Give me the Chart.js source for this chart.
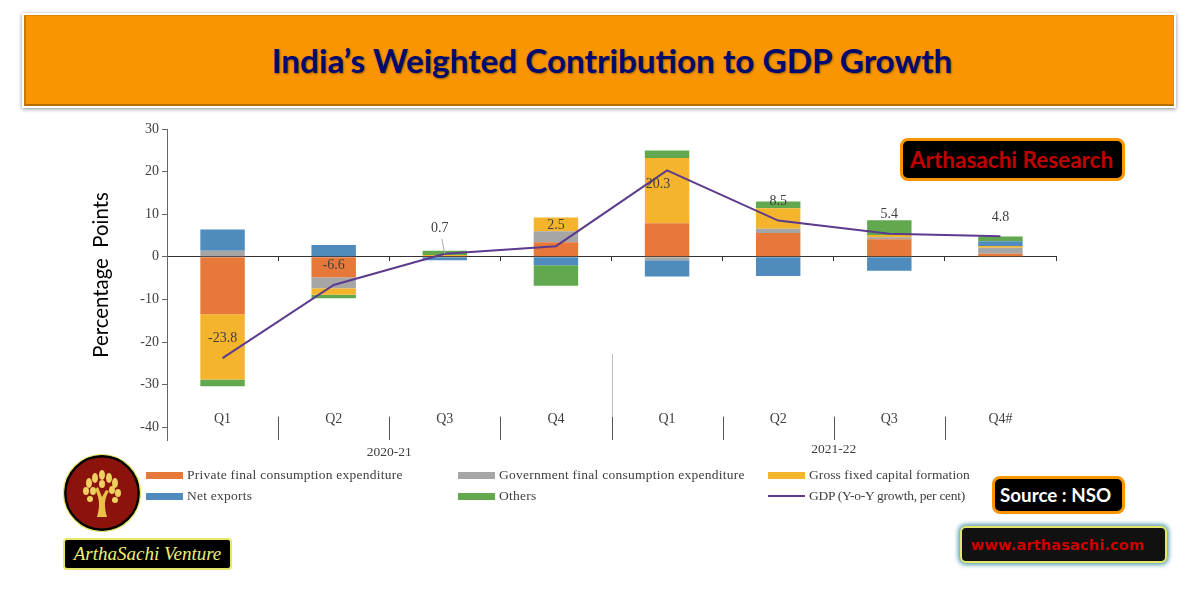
<!DOCTYPE html>
<html>
<head>
<meta charset="utf-8">
<title>India's Weighted Contribution to GDP Growth</title>
<script src="https://cdn.jsdelivr.net/npm/chart.js@4"></script>
<style>
  html, body { margin: 0; padding: 0; background: #fff; }
  #page { position: relative; width: 1201px; height: 601px; overflow: hidden; }
  #chart { position: absolute; left: 0; top: 0; }
  .abs { position: absolute; box-sizing: border-box; }
  #banner {
    left: 22px; top: 13px; width: 1154px; height: 95px; background: #fff;
    box-shadow: 0 1px 4px rgba(0,0,0,0.45); padding: 2px;
  }
  #bannerInner {
    width: 100%; height: 100%; box-sizing: border-box; background: #f99500; padding-left: 25px;
    border: 1px solid #e08800; border-bottom: 2px solid #b56d00; border-left: 2px solid #c97a00;
    text-align: center; color: #000a6e; font: bold 33.3px/88px Lato, sans-serif;
    text-shadow: 1px 1px 2px rgba(0,0,0,0.4);
  }
  .tag {
    background: #000; border: 3px solid #f99500; border-radius: 8px; white-space: nowrap;
    font-family: Lato, sans-serif; font-weight: bold;
  }
  #research { left: 900px; top: 138px; width: 225px; height: 43px; color: #c00000; font-size: 22.5px; line-height: 37px; padding-left: 7px; }
  #source { left: 992px; top: 476px; width: 133px; height: 38px; color: #fff; font-size: 18.8px; line-height: 31px; padding-left: 5px; }
  #site {
    left: 960px; top: 526px; width: 207px; height: 37px; background: #111; border: 2px solid #e6e66a; border-radius: 6px;
    box-shadow: 0 0 4px 2px rgba(40,130,150,0.75); color: #d00000; font: bold 14.8px/33px "DejaVu Sans", sans-serif; padding-left: 9px;
    white-space: nowrap;
  }
  #venture {
    left: 63px; top: 538px; width: 169px; height: 32px; background: #000; border: 2px solid #e6e66a; border-radius: 4px;
    color: #eeee77; font: italic 19px/27px "Liberation Serif", serif; text-align: center; white-space: nowrap;
  }
  .legendItem { position: absolute; font: 13.5px/16px "Liberation Serif", serif; color: #404040; white-space: nowrap; }
  .swatch { position: absolute; width: 37px; height: 7px; }
  .swatch.line { height: 2px; }
</style>
</head>
<body>
<div id="page">
  <canvas id="chart" width="1201" height="601"></canvas>
  <div id="banner" class="abs"><div id="bannerInner">India’s Weighted Contribution to GDP Growth</div></div>
  <div id="research" class="abs tag">Arthasachi Research</div>
  <div id="source" class="abs tag">Source : NSO</div>
  <div id="site" class="abs">www.arthasachi.com</div>
  <div id="legend"></div>
  <svg class="abs" style="left:62px;top:453px" width="80" height="80" viewBox="0 0 80 80">
    <circle cx="40" cy="40" r="37" fill="#8c130b" stroke="#000" stroke-width="3"/>
    <circle cx="40" cy="40" r="38.5" fill="none" stroke="#e6e66a" stroke-width="1.2"/>
    <path d="M35 64 L45 64 C42 54 42 46 47 38 L44 37 L40 44 L36 34 L33 36 C38 46 38 54 35 64 Z" fill="#e8c04a"/>
    <g fill="#f0cf62">
      <ellipse cx="27" cy="30" rx="3" ry="5"/><ellipse cx="33" cy="25" rx="3" ry="5"/><ellipse cx="40" cy="22" rx="3" ry="5"/>
      <ellipse cx="47" cy="25" rx="3" ry="5"/><ellipse cx="53" cy="30" rx="3" ry="5"/><ellipse cx="24" cy="38" rx="3" ry="4"/>
      <ellipse cx="31" cy="38" rx="3" ry="4"/><ellipse cx="50" cy="37" rx="3" ry="4"/><ellipse cx="56" cy="40" rx="3" ry="4"/>
      <ellipse cx="40" cy="31" rx="3" ry="4"/><ellipse cx="53" cy="47" rx="3" ry="3"/><ellipse cx="28" cy="46" rx="3" ry="3"/>
    </g>
  </svg>
  <div id="venture" class="abs">ArthaSachi Venture</div>
</div>

<script>
const quarters = ['Q1', 'Q2', 'Q3', 'Q4', 'Q1', 'Q2', 'Q3', 'Q4#'];
const yearLabels = ['2020-21', '2021-22'];
const yTicks = [30, 20, 10, 0, -10, -20, -30, -40];
const yAxisTitle = 'Percentage  Points';

// values, in percentage points
const privateConsumption = [-13.5, -4.8, 0.2, 3.4, 7.9, 5.6, 4.1, 0.7];
const governmentConsumption = [1.4, -2.6, 0.0, 2.6, -0.8, 1.0, 0.5, 1.4];
const capitalFormation = [-15.3, -1.5, 0.2, 3.2, 15.3, 4.8, 0.5, 0.45];
const netExports = [5.0, 2.8, -0.8, -2.0, -3.8, -4.5, -3.3, 1.1];
const others = [-1.6, -0.8, 1.0, -4.8, 1.75, 1.6, 3.5, 1.1];
const gdpGrowth = [-23.8, -6.6, 0.7, 2.5, 20.3, 8.5, 5.4, 4.8];

const seriesNames = ['Private final consumption expenditure', 'Government final consumption expenditure',
    'Gross fixed capital formation', 'Net exports', 'Others', 'GDP (Y-o-Y growth, per cent)'];
const seriesColors = ['#e6783a', '#a6a6a6', '#f4b52c', '#4f8bbd', '#62a84e', '#5c3a8e'];

const textColor = '#404040';
const tickFont = { family: 'Liberation Serif', size: 14 };

// label offsets from the GDP points, in px
const gdpLabelDx = [0, 0, -5, 0, -9, 0, 0, 0];
const gdpLabelDy = [-20, -20, -25, -21, 14, -19, -19, -19];

function barSet(i, values) {
    return { type: 'bar', label: seriesNames[i], data: values, backgroundColor: seriesColors[i], order: 2,
        barPercentage: 0.4, categoryPercentage: 1 };
}

// --- Labels, separators and year captions that Chart.js has no option for ---
const annotations = {
    id: 'annotations',
    afterDatasetsDraw(chart) {
        const ctx = chart.ctx;
        const x = chart.scales.x;
        const y = chart.scales.y;
        const bottom = chart.chartArea.bottom;

        ctx.save();
        // separators under the quarter names
        ctx.strokeStyle = '#555';
        ctx.lineWidth = 1;
        for (let i = 1; i < quarters.length; i++) {
            const px = Math.round(x.getPixelForValue(i - 0.5)) + 0.5;
            ctx.beginPath();
            ctx.moveTo(px, y.getPixelForValue(-37.5));
            ctx.lineTo(px, bottom);
            ctx.stroke();
        }
        // divider between the two years
        const mid = Math.round(x.getPixelForValue(3.5)) + 0.5;
        ctx.strokeStyle = '#bbb';
        ctx.beginPath();
        ctx.moveTo(mid, y.getPixelForValue(-22.8));
        ctx.lineTo(mid, y.getPixelForValue(-37.5));
        ctx.stroke();

        // leader line of the 0.7 label
        ctx.strokeStyle = '#aaa';
        ctx.beginPath();
        ctx.moveTo(x.getPixelForValue(2) - 3, y.getPixelForValue(gdpGrowth[2]) - 15);
        ctx.lineTo(x.getPixelForValue(2), y.getPixelForValue(gdpGrowth[2]));
        ctx.stroke();

        ctx.font = '14px "Liberation Serif"';
        ctx.textAlign = 'center';
        ctx.textBaseline = 'middle';
        ctx.fillStyle = textColor;
        gdpGrowth.forEach((v, i) => {
            ctx.fillText(v.toFixed(1), x.getPixelForValue(i) + gdpLabelDx[i], y.getPixelForValue(v) + gdpLabelDy[i]);
        });

        ctx.font = '13.5px "Liberation Serif"';
        ctx.fillText(yearLabels[0], x.getPixelForValue(1.5), bottom + 12);
        ctx.fillText(yearLabels[1], x.getPixelForValue(5.5), bottom + 9);

        // y axis title sits off the axis centre in the source
        ctx.translate(101, 275);
        ctx.rotate(-Math.PI / 2);
        ctx.font = '20.4px Lato';
        ctx.fillStyle = '#000';
        ctx.fillText(yAxisTitle, 0, 0);
        ctx.restore();
    }
};

new Chart(document.getElementById('chart'), {
    data: {
        labels: quarters,
        datasets: [
            barSet(0, privateConsumption),
            barSet(1, governmentConsumption),
            barSet(2, capitalFormation),
            barSet(3, netExports),
            barSet(4, others),
            { type: 'line', label: seriesNames[5], data: gdpGrowth, borderColor: seriesColors[5], borderWidth: 2,
                pointRadius: 0, tension: 0, fill: false, order: 1 }
        ]
    },
    options: {
        responsive: false,
        animation: false,
        layout: { padding: { left: 137, top: 129, right: 145, bottom: 161 } },
        plugins: { legend: { display: false }, tooltip: { enabled: false } },
        scales: {
            x: {
                stacked: true,
                position: { y: 0 },
                border: { color: '#333', width: 1 },
                grid: { drawOnChartArea: false, drawTicks: true, tickLength: 4, color: '#333', offset: true },
                ticks: { color: textColor, font: tickFont, padding: 150, maxRotation: 0, autoSkip: false }
            },
            y: {
                stacked: true,
                min: -43,
                max: 30,
                afterBuildTicks(scale) { scale.ticks = yTicks.map(v => ({ value: v })); },
                afterFit(scale) { scale.width = 30; },
                border: { color: '#666', width: 1 },
                grid: { drawOnChartArea: false, drawTicks: true, tickLength: 5, color: '#666' },
                ticks: { color: textColor, font: tickFont, padding: 3 }
            }
        }
    },
    plugins: [annotations]
});

// --- Legend laid out in three columns like the source ---
const legendEl = document.getElementById('legend');
const legendX = [146, 458, 768];
const legendY = [475, 496];
const legendSpacing = [0.25, 0.25, 0.08, 0.25, 0.25, -0.27];
seriesNames.forEach((name, i) => {
    const col = i % 3;
    const row = Math.floor(i / 3);
    const isLine = i === 5;
    const swatch = document.createElement('div');
    swatch.className = isLine ? 'swatch line' : 'swatch';
    swatch.style.left = legendX[col] + 'px';
    swatch.style.top = (legendY[row] - (isLine ? 1 : 3)) + 'px';
    swatch.style.background = seriesColors[i];
    legendEl.appendChild(swatch);
    const label = document.createElement('div');
    label.className = 'legendItem';
    label.style.left = (legendX[col] + 41) + 'px';
    label.style.top = (legendY[row] - 8) + 'px';
    label.style.letterSpacing = legendSpacing[i] + 'px';
    label.textContent = name;
    legendEl.appendChild(label);
});
</script>
</body>
</html>
